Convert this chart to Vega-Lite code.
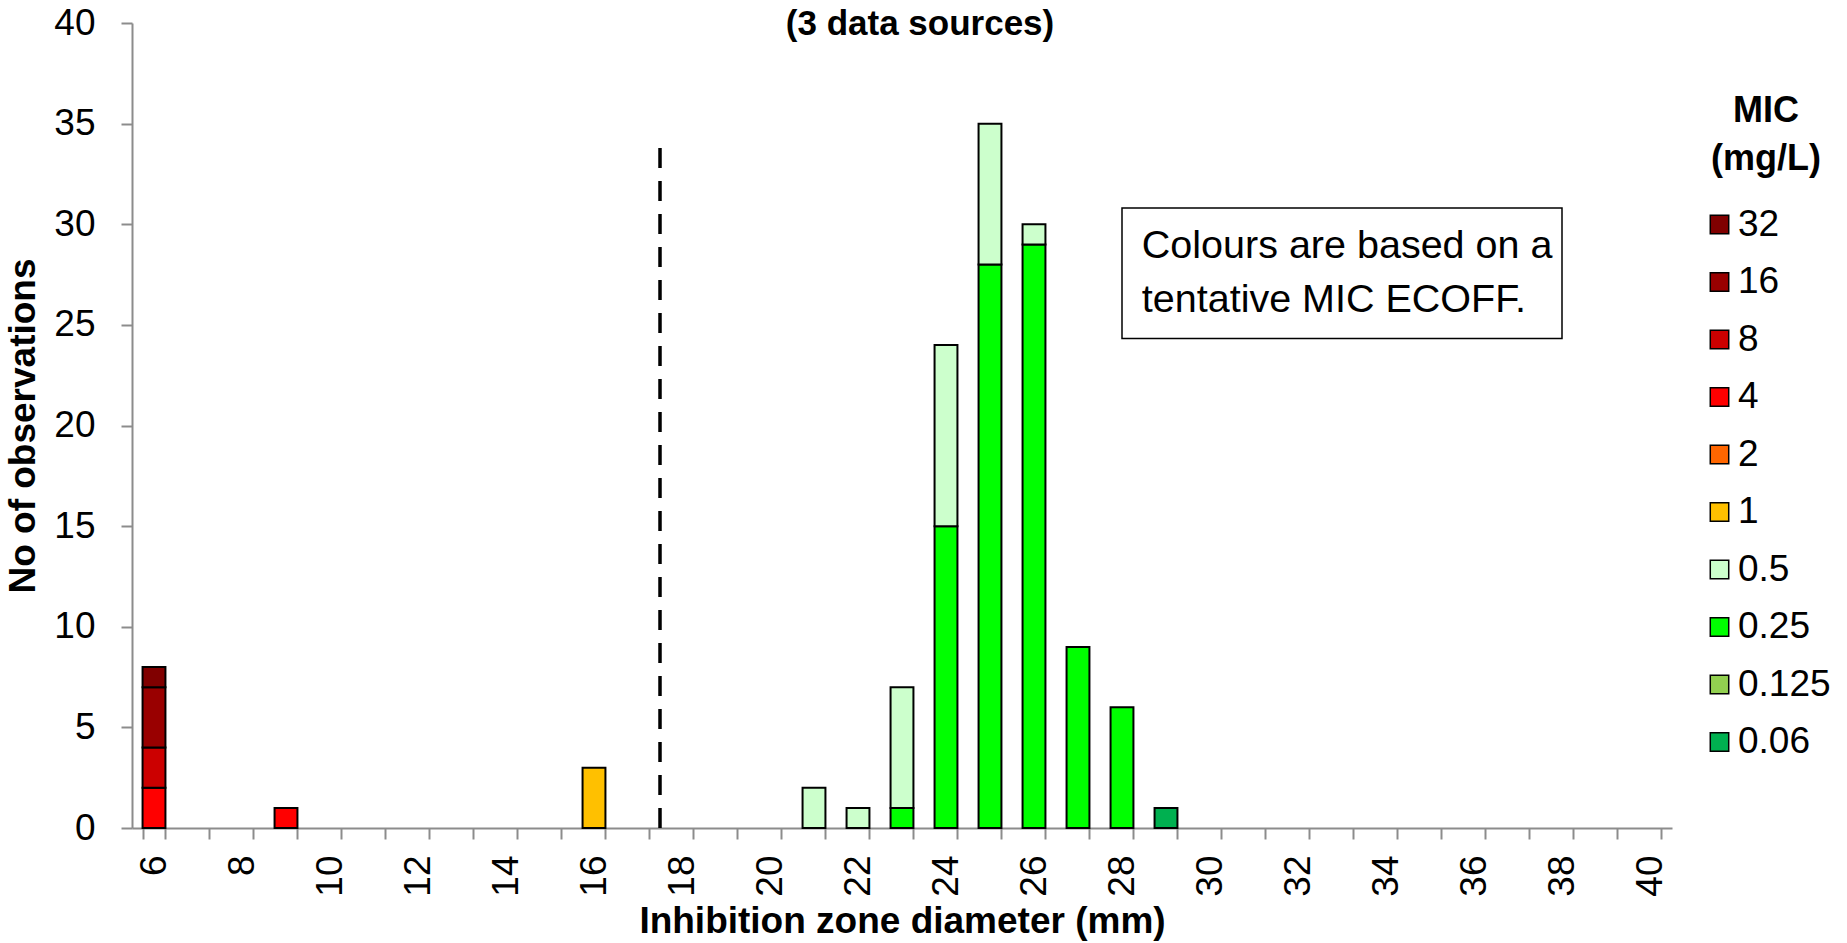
{
  "$schema": "https://vega.github.io/schema/vega-lite/v6.json",
  "autosize": {"type": "none"},
  "width": 1540,
  "height": 805,
  "padding": {"left": 132, "top": 23, "right": 175, "bottom": 115},
  "background": "white",
  "config": {
    "font": "Liberation Sans",
    "view": {"stroke": null},
    "axis": {"grid": false, "labelColor": "black", "titleColor": "black", "domainColor": "#8c8c8c", "tickColor": "#8c8c8c", "domainWidth": 2, "tickWidth": 2}
  },
  "title": {
    "text": "(3 data sources)",
    "fontSize": 35,
    "fontWeight": "bold",
    "color": "black",
    "anchor": "middle",
    "frame": "group",
    "baseline": "alphabetic",
    "offset": -12,
    "dx": 18,
    "dy": 54
  },
  "resolve": {"scale": {"x": "independent"}},
  "layer": [
    {
      "data": {
        "values": [
          {"zone": 6, "mic": "4", "micv": 4, "count": 2},
          {"zone": 6, "mic": "8", "micv": 8, "count": 2},
          {"zone": 6, "mic": "16", "micv": 16, "count": 3},
          {"zone": 6, "mic": "32", "micv": 32, "count": 1},
          {"zone": 9, "mic": "4", "micv": 4, "count": 1},
          {"zone": 16, "mic": "1", "micv": 1, "count": 3},
          {"zone": 21, "mic": "0.5", "micv": 0.5, "count": 2},
          {"zone": 22, "mic": "0.5", "micv": 0.5, "count": 1},
          {"zone": 23, "mic": "0.25", "micv": 0.25, "count": 1},
          {"zone": 23, "mic": "0.5", "micv": 0.5, "count": 6},
          {"zone": 24, "mic": "0.25", "micv": 0.25, "count": 15},
          {"zone": 24, "mic": "0.5", "micv": 0.5, "count": 9},
          {"zone": 25, "mic": "0.25", "micv": 0.25, "count": 28},
          {"zone": 25, "mic": "0.5", "micv": 0.5, "count": 7},
          {"zone": 26, "mic": "0.25", "micv": 0.25, "count": 29},
          {"zone": 26, "mic": "0.5", "micv": 0.5, "count": 1},
          {"zone": 27, "mic": "0.25", "micv": 0.25, "count": 9},
          {"zone": 28, "mic": "0.25", "micv": 0.25, "count": 6},
          {"zone": 29, "mic": "0.06", "micv": 0.06, "count": 1}
        ]
      },
      "mark": {"type": "bar", "stroke": "black", "strokeWidth": 2},
      "encoding": {
        "x": {
          "field": "zone",
          "type": "ordinal",
          "scale": {
            "domain": [6,7,8,9,10,11,12,13,14,15,16,17,18,19,20,21,22,23,24,25,26,27,28,29,30,31,32,33,34,35,36,37,38,39,40],
            "paddingInner": 0.48,
            "paddingOuter": 0.24
          },
          "axis": {
            "title": "Inhibition zone diameter (mm)",
            "titleFontSize": 37,
            "titleFontWeight": "bold",
            "titlePadding": 7,
            "labelFontSize": 37,
            "labelAngle": -90,
            "labelPadding": 16,
            "tickSize": 11,
            "tickBand": "extent",
            "labelExpr": "datum.value % 2 === 0 ? datum.label : ''"
          }
        },
        "y": {
          "field": "count",
          "type": "quantitative",
          "aggregate": "sum",
          "stack": "zero",
          "scale": {"domain": [0, 40], "nice": false},
          "axis": {
            "title": "No of observations",
            "titleFontSize": 37,
            "titleFontWeight": "bold",
            "titlePadding": 11,
            "values": [0,5,10,15,20,25,30,35,40],
            "labelFontSize": 37,
            "labelPadding": 26,
            "tickSize": 11
          }
        },
        "color": {
          "field": "mic",
          "type": "nominal",
          "scale": {
            "domain": ["32","16","8","4","2","1","0.5","0.25","0.125","0.06"],
            "range": ["#800000","#990000","#CC0000","#FF0000","#FF6600","#FFC000","#CCFFCC","#00FF00","#92D050","#00B050"]
          },
          "legend": {
            "title": ["MIC", "(mg/L)"],
            "orient": "none",
            "legendX": 1569,
            "legendY": 71,
            "padding": 0,
            "titleFontSize": 36,
            "titleFontWeight": "bold",
            "titleColor": "black",
            "titleLineHeight": 48,
            "titleAnchor": "middle",
            "titleAlign": "center",
            "titlePadding": 28,
            "symbolType": "square",
            "symbolSize": 340,
            "symbolStrokeColor": "black",
            "symbolStrokeWidth": 1.5,
            "symbolOpacity": 1,
            "labelFontSize": 37,
            "labelColor": "black",
            "labelOffset": 0,
            "rowPadding": 19.5
          }
        },
        "order": {"field": "micv", "type": "quantitative", "sort": "ascending"}
      }
    },
    {
      "data": {"values": [{"label": "tentative ECOFF"}]},
      "mark": {"type": "rule", "color": "black", "strokeWidth": 3.5, "strokeDash": [20, 13]},
      "encoding": {
        "x": {"datum": 17.5, "type": "quantitative", "scale": {"domain": [5.5, 40.5], "nice": false, "zero": false}, "axis": null},
        "y": {"datum": 0, "type": "quantitative"},
        "y2": {"datum": 33.8}
      }
    },
    {
      "data": {"values": [{"label": "box"}]},
      "mark": {"type": "rect", "fill": "white", "stroke": "black", "strokeWidth": 1.5},
      "encoding": {
        "x": {"datum": 28.0, "type": "quantitative", "scale": {"domain": [5.5, 40.5], "nice": false, "zero": false}, "axis": null},
        "x2": {"datum": 38.0},
        "y": {"datum": 24.32, "type": "quantitative"},
        "y2": {"datum": 30.81}
      }
    },
    {
      "data": {"values": [{"note": "Colours are based on a\ntentative MIC ECOFF."}]},
      "mark": {"type": "text", "align": "left", "baseline": "alphabetic", "fontSize": 39.5, "color": "black", "lineBreak": "\n", "lineHeight": 54},
      "encoding": {
        "x": {"datum": 28.45, "type": "quantitative", "scale": {"domain": [5.5, 40.5], "nice": false, "zero": false}, "axis": null},
        "y": {"datum": 28.32, "type": "quantitative"},
        "text": {"field": "note", "type": "nominal"}
      }
    }
  ]
}
